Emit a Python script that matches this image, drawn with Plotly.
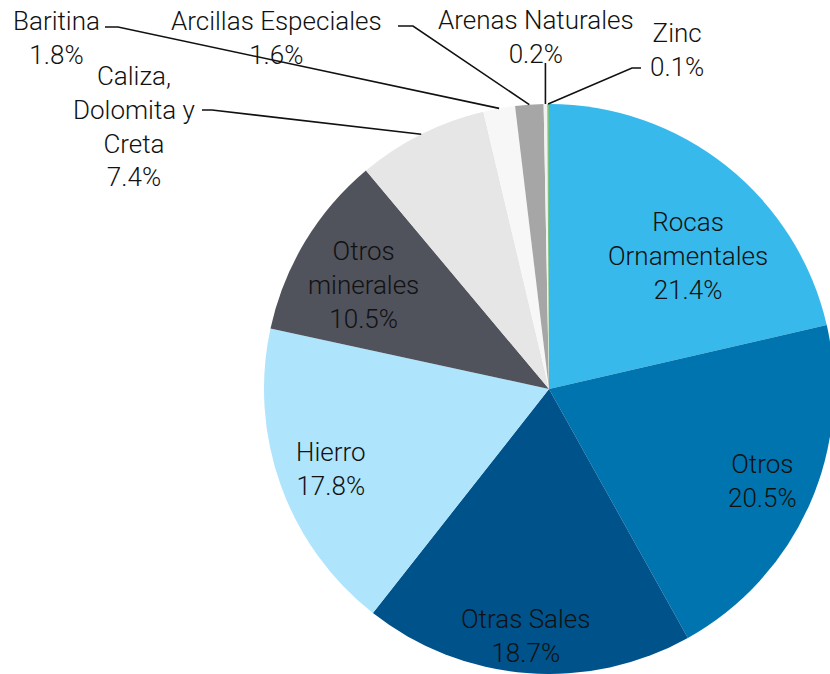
import math
import plotly.graph_objects as go

categories = ["Rocas Ornamentales", "Otros", "Otras Sales", "Hierro", "Otros minerales",
              "Caliza, Dolomita y Creta", "Baritina", "Arcillas Especiales",
              "Arenas Naturales", "Zinc"]
values = [21.4, 20.5, 18.7, 17.8, 10.5, 7.4, 1.8, 1.6, 0.2, 0.1]
label_text = ["Rocas<br>Ornamentales", "Otros", "Otras Sales", "Hierro", "Otros<br>minerales",
              "Caliza,<br>Dolomita y<br>Creta", "Baritina", "Arcillas Especiales",
              "Arenas Naturales", "Zinc"]
colors = ["#38B9EB", "#0074AF", "#00528A", "#AEE4FC", "#50525C",
          "#E6E6E6", "#F7F7F7", "#A6A6A6", "#F2F2F2", "#7CC47F"]

W, H = 840, 674              # figure size (pie overflows the 830px window slightly on the right)
CX, CY, R = 549, 389, 285    # pie centre / radius in page pixels

def px(x, y):
    return x / W, 1 - y / H

# label positions (page pixels)
label_pos = {
    "Rocas Ornamentales": (688, 256),
    "Otros": (762, 481),
    "Otras Sales": (526, 636),
    "Hierro": (331, 469),
    "Otros minerales": (363, 285),
    "Caliza, Dolomita y Creta": (134, 126),
    "Baritina": (56, 38),
    "Arcillas Especiales": (276, 38),
    "Arenas Naturales": (536, 37),
    "Zinc": (677, 50),
}
# leader line elbow / end points (page pixels)
leaders = {
    "Caliza, Dolomita y Creta": [(212, 110), (202, 110)],
    "Baritina": [(118, 27), (105, 27)],
    "Arcillas Especiales": [(413, 26), (398, 26)],
    "Arenas Naturales": [(None, 63)],
    "Zinc": [(632, 68), (641, 68)],
}

x0, y1 = px(CX - R, CY - R)
x1, y0 = px(CX + R, CY + R)
fig = go.Figure(go.Pie(
    labels=categories, values=values, sort=False, direction="clockwise", rotation=0,
    marker=dict(colors=colors, line=dict(width=0)),
    textinfo="none", hoverinfo="label+percent",
    domain=dict(x=[max(0, x0), min(1, x1)], y=[max(0, y0), min(1, y1)]),
    showlegend=False,
))

total = sum(values)
cum = 0
shapes = []
annotations = []
for cat, v, txt in zip(categories, values, label_text):
    mid = (cum + v / 2) / total * 2 * math.pi
    cum += v
    x, y = label_pos[cat]
    ax, ay = px(x, y)
    annotations.append(dict(x=ax, y=ay, xref="paper", yref="paper",
                            text=f"{txt}<br>{v:.1f}%", showarrow=False,
                            xanchor="center", yanchor="middle", align="center",
                            font=dict(family="Roboto", size=26, color="#111111", weight=300)))
    if cat in leaders:
        sx = CX + R * math.sin(mid)
        sy = CY - R * math.cos(mid)
        pts = [(sx, sy)]
        for (lx, ly) in leaders[cat]:
            pts.append((sx if lx is None else lx, ly))
        path = ""
        for i, (lx, ly) in enumerate(pts):
            qx, qy = px(lx, ly)
            path += ("M" if i == 0 else " L") + f"{qx:.5f},{qy:.5f}"
        shapes.append(dict(type="path", path=path, xref="paper", yref="paper",
                           line=dict(color="#111111", width=1.6)))

fig.update_layout(width=W, height=H, margin=dict(l=0, r=0, t=0, b=0),
                  paper_bgcolor="white", plot_bgcolor="white",
                  shapes=shapes, annotations=annotations)
fig.write_html("out.html", config={"displayModeBar": False},
               post_script="document.body.style.margin='0';document.body.style.overflow='hidden';")
